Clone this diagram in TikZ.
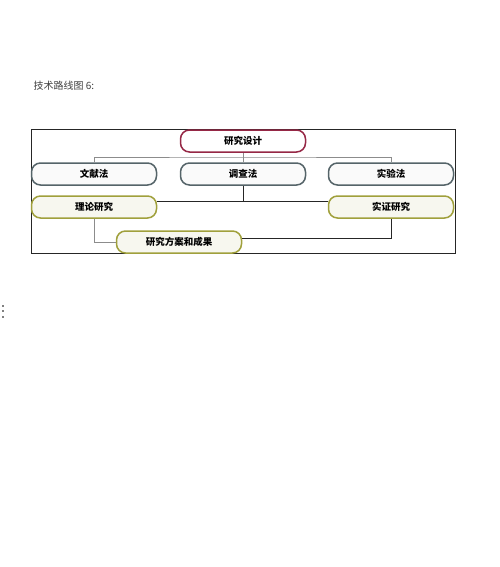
\documentclass[tikz,border=0pt]{standalone}
\usepackage{fontspec}
\setmainfont{Noto Sans CJK SC}
\usetikzlibrary{positioning, calc}

\definecolor{designred}{RGB}{150,40,70}
\definecolor{methodgray}{RGB}{85,100,105}
\definecolor{studyolive}{RGB}{160,160,60}

\begin{document}
\begin{tikzpicture}[
                x=1pt, y=-1pt,
                box/.style={rectangle, rounded corners=9pt, line width=1.5pt, minimum width=125pt,
                            minimum height=22pt, inner sep=0pt, font=\fontsize{9.5}{11}\selectfont\bfseries},
                design/.style={box, draw=designred, fill=white},
                method/.style={box, draw=methodgray, fill=methodgray!3},
                study/.style={box, draw=studyolive, fill=studyolive!8},
                lightline/.style={draw=black!45, line width=0.8pt},
                darkline/.style={draw=black!85, line width=0.8pt},
            ]
                \useasboundingbox (0,0) rectangle (500,567);

                % Title and frame
                \node[anchor=west, font=\fontsize{10}{12}\selectfont, text=black!75] (title) at (30,86) {技术路线图 6:};
                \draw[darkline] (31.7,129.3) rectangle (455,253.3);

                % Top node
                \node[design] (design) at (243,141) {研究设计};

                % Draw the method nodes
                \foreach \name / \x / \label in {wenxian/94/文献法, diaocha/243/调查法, shiyan/391/实验法}
                    \node[method] (\name) at (\x,174) {\label};

                % Draw the study nodes
                \node[study] (lilun) at (94,207) {理论研究};
                \node[study] (shizheng) at (391,207) {实证研究};
                \node[study] (chengguo) at (179,242) {研究方案和成果};

                % Connect the top node with every method node
                \coordinate (split) at (243,157);
                \draw[lightline] (design) -- (split);
                \draw[lightline] (wenxian.north) |- (split) -| (shiyan.north);
                \draw[lightline] (split) -- (diaocha.north);

                % Join the two studies below the middle method
                \coordinate (join) at (243,201);
                \draw[darkline] (diaocha.south) -- (join);
                \draw[darkline] (lilun.east |- join) -- (shizheng.west |- join);

                % Lead both studies into the result
                \draw[lightline] (lilun.south) |- (chengguo.west);
                \draw[darkline] (shizheng.south) |- ($(chengguo.east)+(0,-4)$);

                % Dots at the left margin
                \foreach \y in {306,311,317}
                    \fill[black!50] (1.7,\y-1) rectangle (3.7,\y+1);
            \end{tikzpicture}
\end{document}
